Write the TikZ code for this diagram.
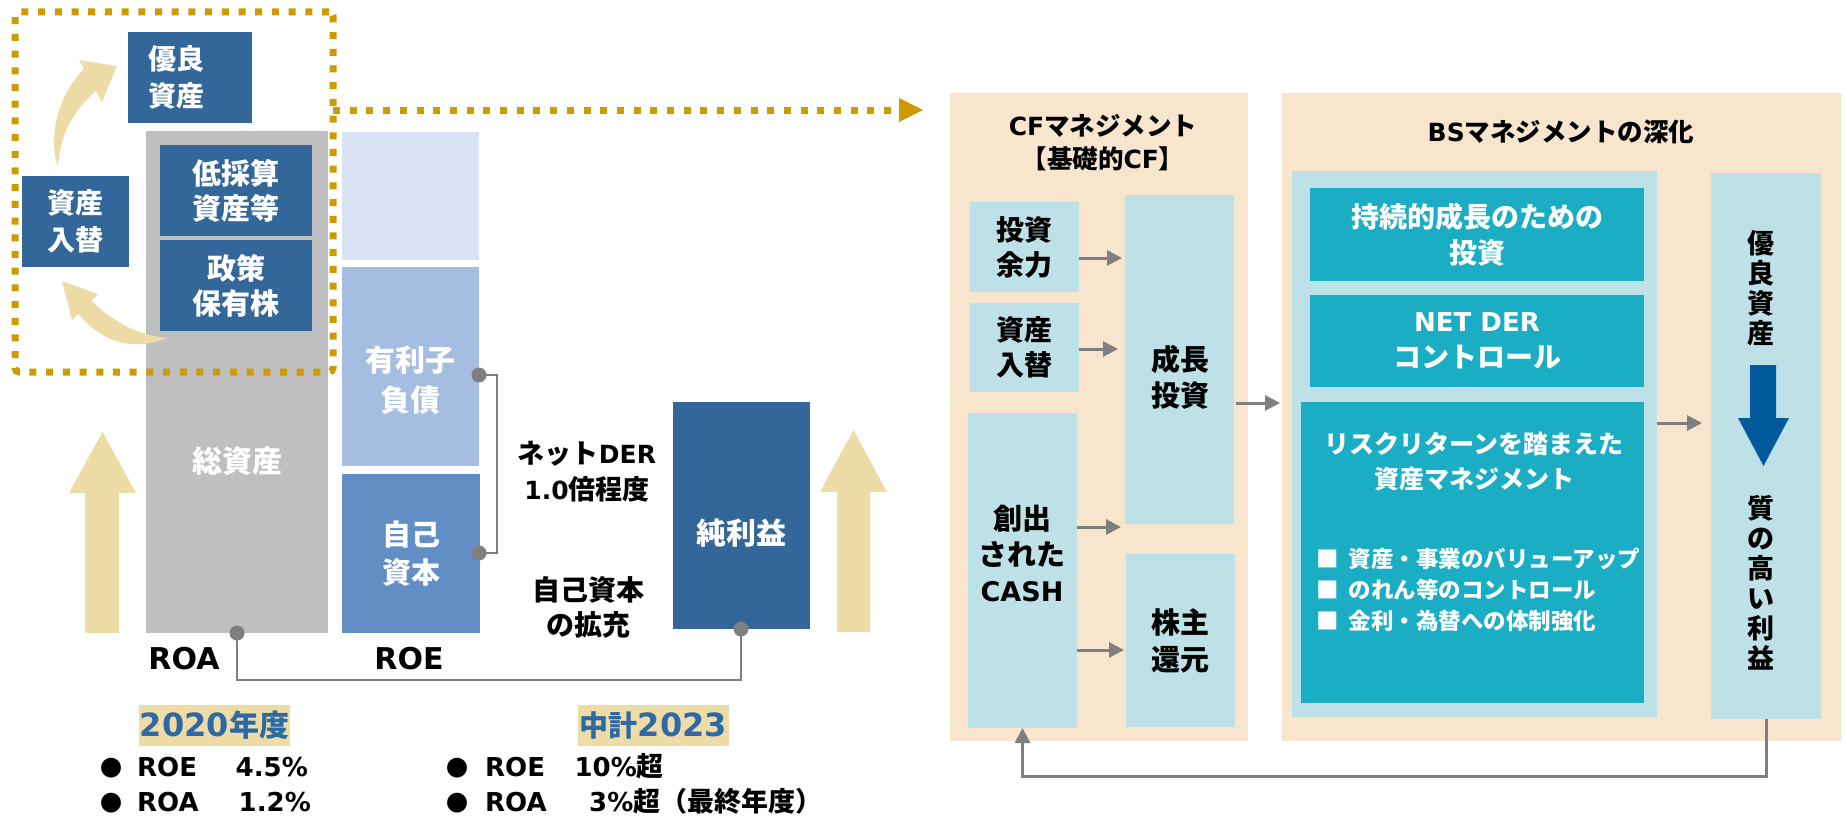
\documentclass[tikz,border=0pt]{standalone}
\usepackage{fontspec}
\setmainfont{Noto Sans CJK JP}
\newfontfamily\lat{DejaVu Sans}
\usetikzlibrary{arrows.meta}
\definecolor{dkblue}{RGB}{51,102,153}
\definecolor{colgray}{RGB}{191,191,191}
\definecolor{paleblue}{RGB}{218,227,243}
\definecolor{midblue}{RGB}{164,189,225}
\definecolor{eqblue}{RGB}{97,143,197}
\definecolor{tanc}{RGB}{237,220,166}
\definecolor{lblblue}{RGB}{46,104,165}
\definecolor{goldc}{RGB}{205,155,0}
\definecolor{beige}{RGB}{247,230,205}
\definecolor{lcyan}{RGB}{189,225,230}
\definecolor{tealbox}{RGB}{26,173,196}
\definecolor{arrblue}{RGB}{0,90,156}
\definecolor{conngray}{RGB}{127,127,127}
\newcommand\jfs[2]{\fontsize{#1}{#2}\selectfont}
\newcommand\lt[2]{{\lat\fontsize{#1}{#1}\selectfont #2}}
\begin{document}
\begin{tikzpicture}[x=1pt,y=-1pt,
  bx/.style={inner sep=0pt, outer sep=0pt, anchor=north west, align=center},
  txt/.style={inner sep=0pt, align=center},
  fnt/.style 2 args={font=\bfseries\jfs{#1}{#2}},
  conn/.style={draw=conngray, line width=2.5pt},
  garr/.style={draw=conngray, line width=3pt, -{Triangle[length=15pt,width=15pt]}},
  gdot/.style={circle, fill=conngray, inner sep=0pt, minimum size=15pt},
  golddot/.style={draw=goldc, line width=7pt, dash pattern=on 7pt off 9.7pt},
  rowt/.style={anchor=base west, inner sep=0pt, fnt={27}{27}},
  rowe/.style={anchor=base east, inner sep=0pt, fnt={27}{27}},
  bul/.style={anchor=base west, inner sep=0pt, fnt={22}{22}}
]
\useasboundingbox (0,0) rectangle (1845,816);

% ---------- left part ----------
\node[bx, fill=colgray, minimum width=182pt, minimum height=502pt] (soshisan) at (146,131) {};
\node[txt, text=white, fnt={30}{38}] (soshisanT) at (237,461) {総資産};
\node[bx, fill=dkblue, text=white, minimum width=124pt, minimum height=91pt, text width=84pt, align=left, fnt={28}{37}] (yuryo) at (128,32) {優良\\資産};
\node[bx, fill=dkblue, text=white, minimum width=107pt, minimum height=91pt, fnt={28}{37}] (irekaeL) at (22,176) {資産\\入替};
\node[bx, fill=dkblue, text=white, minimum width=152pt, minimum height=91pt, fnt={29}{35}] (teisaisan) at (160,145) {低採算\\資産等};
\node[bx, fill=dkblue, text=white, minimum width=152pt, minimum height=91pt, fnt={29}{35}] (seisaku) at (160,240) {政策\\保有株};

\node[bx, fill=paleblue, minimum width=137pt, minimum height=128pt] (pale) at (342,132) {};
\node[bx, fill=midblue, minimum width=137pt, minimum height=199pt] (debt) at (342,267) {};
\node[txt, text=white, fnt={30}{40}] (debtT) at (410,380) {有利子\\負債};
\node[bx, fill=eqblue, text=white, minimum width=138pt, minimum height=159pt, fnt={29}{38}] (equity) at (342,474) {自己\\資本};
\node[bx, fill=dkblue, minimum width=137pt, minimum height=227pt] (netinc) at (673,402) {};
\node[txt, text=white, fnt={30}{38}] (netincT) at (741,533) {純利益};

\node[txt, fnt={27}{36}] (derT) at (587,472) {ネット\lt{25}{DER}\\\lt{25}{1.0}倍程度};
\node[txt, fnt={28}{35}] (eqexpT) at (588,607) {自己資本\\の拡充};

% bracket connectors
\node[gdot] (d1) at (479,375) {};
\node[gdot] (d2) at (479,553) {};
\draw[conn] (d1.center) -- ++(18,0) |- (d2.center);
\node[gdot] (dA) at (237,633) {};
\node[gdot] (dB) at (741,629) {};
\draw[conn] (dA.center) -- ++(0,47) -| (dB.center);

\node[txt, font=\bfseries\lat\fontsize{30}{30}\selectfont] (roa) at (184,659) {ROA};
\node[txt, font=\bfseries\lat\fontsize{30}{30}\selectfont] (roe) at (409,659) {ROE};

% big tan arrows
\fill[tanc] (85,633) -- (85,493) -- (69,493) -- (102.5,432) -- (136,493) -- (119,493) -- (119,633) -- cycle;
\fill[tanc] (837,632) -- (837,492) -- (820,492) -- (853.5,430) -- (887,492) -- (870,492) -- (870,632) -- cycle;

% curved tan arrows
\fill[tanc] (58,167) .. controls (47,135) and (60,92) .. (84,69) -- (79,60) -- (117,66) -- (102,102) -- (96,91) .. controls (72,112) and (60,135) .. (58,167) -- cycle;
\fill[tanc] (167,338) .. controls (140,336) and (112,322) .. (91.5,300.5) -- (98,294) -- (62,281) -- (72,320) -- (78.5,313.5) .. controls (100,342) and (135,352) .. (167,338) -- cycle;

% dotted frame and dotted arrow
\node[bx, draw=goldc, line width=7pt, dash pattern=on 7pt off 9.7pt, rounded corners=4pt, minimum width=318pt, minimum height=360pt] (frame) at (15,12) {};
\coordinate (dS) at (frame.east |- 0,110);
\coordinate (dE) at (899,110);
\draw[golddot] (dS) -- (dE);
\fill[goldc] (dE) ++(0,-12) -- ++(24,12) -- ++(-24,12) -- cycle;

% labels
\node[bx, fill=tanc, text=lblblue, minimum width=151pt, minimum height=41pt, fnt={30}{30}] (lbl1) at (139,705) {\lt{32}{2020}年度};
\node[bx, fill=tanc, text=lblblue, minimum width=151pt, minimum height=41pt, fnt={29}{29}] (lbl2) at (578,705) {中計\lt{32}{2023}};

\node[bul] (b1) at (100,776) {●};
\node[rowt] (r1a) at (137,776) {\lt{26}{ROE}};
\node[rowe] (r1b) at (308,776) {\lt{26}{4.5\%}};
\node[bul] (b2) at (100,811) {●};
\node[rowt] (r2a) at (137,811) {\lt{26}{ROA}};
\node[rowe] (r2b) at (311,811) {\lt{26}{1.2\%}};
\node[bul] (b3) at (446,776) {●};
\node[rowt] (r3a) at (485,776) {\lt{26}{ROE}};
\node[rowe] (r3b) at (664,776) {\lt{26}{10\%}超};
\node[bul] (b4) at (446,811) {●};
\node[rowt] (r4a) at (485,811) {\lt{26}{ROA}};
\node[rowt] (r4b) at (589,811) {\lt{26}{3\%}超（最終年度）};

% ---------- right part ----------
\node[bx, fill=beige, minimum width=298pt, minimum height=648pt] (cfp) at (950,93) {};
\node[txt, fnt={25.5}{33}] (cft) at (1103,143) {\lt{25}{CF}マネジメント\\【基礎的\lt{25}{CF}】};
\node[bx, fill=beige, minimum width=559pt, minimum height=648pt] (bsp) at (1282,93) {};
\node[txt, fnt={25.5}{33}] (bst) at (1561,132) {\lt{25}{BS}マネジメントの深化};

\node[bx, fill=lcyan, minimum width=109pt, minimum height=90pt, fnt={28}{35}] (toushi) at (970,202) {投資\\余力};
\node[bx, fill=lcyan, minimum width=109pt, minimum height=89pt, fnt={28}{35}] (irekaeR) at (970,303) {資産\\入替};
\node[bx, fill=lcyan, minimum width=109pt, minimum height=315pt] (cash) at (968,413) {};
\node[txt, fnt={29}{36}] (cashT) at (1022,553) {創出\\された\\\lt{27}{CASH}};
\node[bx, fill=lcyan, minimum width=109pt, minimum height=329pt] (seicho) at (1125,195) {};
\node[txt, fnt={29}{36}] (seichoT) at (1180,377) {成長\\投資};
\node[bx, fill=lcyan, minimum width=109pt, minimum height=173pt, fnt={29}{37}] (kabu) at (1126,554) {株主\\還元};

\node[bx, fill=lcyan, minimum width=365pt, minimum height=546pt] (bsin) at (1292,171) {};
\node[bx, fill=tealbox, text=white, minimum width=334pt, minimum height=93pt, fnt={28}{36}] (jizoku) at (1310,188) {持続的成長のための\\投資};
\node[bx, fill=tealbox, text=white, minimum width=334pt, minimum height=92pt, fnt={28}{36}] (netder) at (1310,295) {\lt{26}{NET DER}\\コントロール};
\node[bx, fill=tealbox, minimum width=343pt, minimum height=301pt] (risk) at (1301,402) {};
\node[txt, text=white, fnt={25}{35}] (riskT) at (1474,462) {リスクリターンを踏まえた\\資産マネジメント};
\node[anchor=west, inner sep=0pt, text=white, fnt={22.5}{31}, align=left] (riskL) at (1316,590) {■\hspace{10pt}資産・事業のバリューアップ\\■\hspace{10pt}のれん等のコントロール\\■\hspace{10pt}金利・為替への体制強化};

\node[bx, fill=lcyan, minimum width=110pt, minimum height=546pt] (rcol) at (1711,173) {};
\node[txt, fnt={27}{30}] (yuryoV) at (1761,288) {優\\良\\資\\産};
\node[txt, fnt={27}{30}] (shitsuV) at (1761,583) {質\\の\\高\\い\\利\\益};
\fill[arrblue] (1750,365) -- (1776,365) -- (1776,418) -- (1789,418) -- (1763.5,466) -- (1738,418) -- (1750,418) -- cycle;

% gray arrows
\draw[garr, shorten >=3pt] (toushi.east |- 0,258) -- (seicho.west |- 0,258);
\draw[garr, shorten >=7pt] (irekaeR.east |- 0,349) -- (seicho.west |- 0,349);
\draw[garr, shorten >=4pt] (cash.east |- 0,527) -- (seicho.west |- 0,527);
\draw[garr, shorten >=2pt] (cash.east |- 0,650) -- (kabu.west |- 0,650);
\draw[garr, shorten <=2pt, shorten >=2pt] (seicho.east |- 0,403) -- (bsp.west |- 0,403);
\draw[garr, shorten >=9pt] (bsin.east |- 0,423) -- (rcol.west |- 0,423);
\draw[garr] (rcol.south) -- ++(0,57) -| (cash.south);
\end{tikzpicture}
\end{document}
